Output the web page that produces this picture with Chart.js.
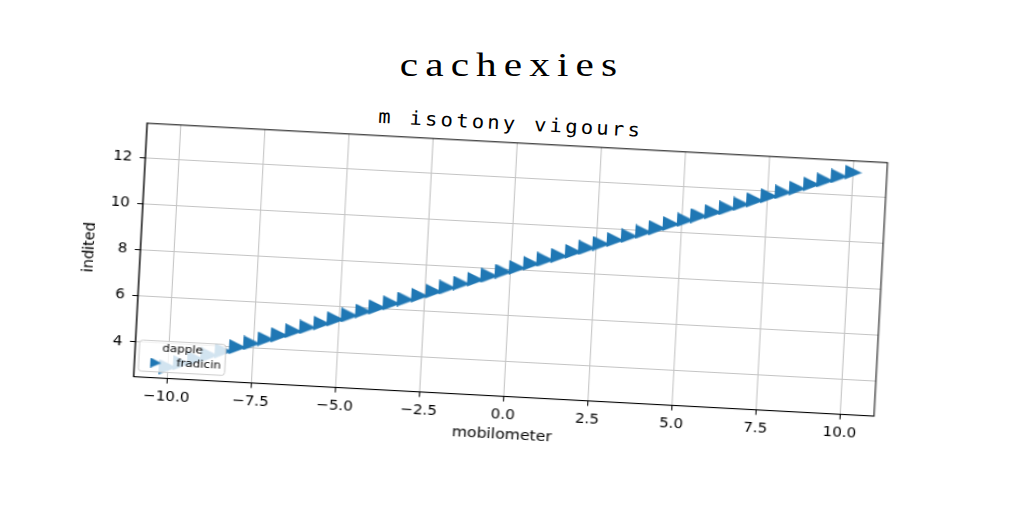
<!DOCTYPE html>
<html lang="en">
<head>
<meta charset="UTF-8" />
<title>cachexies</title>
<script src="https://cdn.jsdelivr.net/npm/chart.js@4.4.0/dist/chart.umd.min.js"></script>
<style>
  body { margin: 0; background: #fff; width: 1024px; height: 512px; overflow: hidden; position: relative; }
  #title { position: absolute; left: 0; top: 49px; width: 1024px; text-align: center; font: 33px/33px "Liberation Serif", serif; letter-spacing: 5.7px; color: #000; transform: scaleX(1.25); }
  #plot { position: absolute; left: 0; top: 0; width: 1024px; height: 512px; transform-origin: 510.5px 269.7px; transform: rotate(3.05deg) scaleX(1.08); }
  #subtitle { position: absolute; left: 0; width: 1007px; top: 114px; text-align: center; font: 19px/19px "DejaVu Sans Mono", monospace; letter-spacing: 3px; color: #000; }
  canvas { position: absolute; left: 0; top: 0; }
</style>
</head>
<body>
<div id="title">cachexies</div>
<div id="plot">
  <div id="subtitle">m isotony vigours</div>
  <canvas id="chart" width="1024" height="512"></canvas>
</div>
<script>
// values
const xValues = [-10, -9.59, -9.18, -8.78, -8.37, -7.96, -7.55, -7.14, -6.73, -6.33,
  -5.92, -5.51, -5.10, -4.69, -4.29, -3.88, -3.47, -3.06, -2.65, -2.24,
  -1.84, -1.43, -1.02, -0.61, -0.20, 0.20, 0.61, 1.02, 1.43, 1.84,
  2.24, 2.65, 3.06, 3.47, 3.88, 4.29, 4.69, 5.10, 5.51, 5.92,
  6.33, 6.73, 7.14, 7.55, 7.96, 8.37, 8.78, 9.18, 9.59, 10];
const yValues = [3.00, 3.20, 3.41, 3.61, 3.82, 4.02, 4.22, 4.43, 4.63, 4.84,
  5.04, 5.24, 5.45, 5.65, 5.86, 6.06, 6.27, 6.47, 6.67, 6.88,
  7.08, 7.29, 7.49, 7.69, 7.90, 8.10, 8.31, 8.51, 8.71, 8.92,
  9.12, 9.33, 9.53, 9.73, 9.94, 10.14, 10.35, 10.55, 10.76, 10.96,
  11.16, 11.37, 11.57, 11.78, 11.98, 12.18, 12.39, 12.59, 12.80, 13.00];
const xTicks = [-10, -7.5, -5, -2.5, 0, 2.5, 5, 7.5, 10];
const yTicks = [4, 6, 8, 10, 12];
const seriesLabel = 'fradicin';
const legendTitle = 'dapple';
const xTitle = 'mobilometer';
const yTitle = 'indited';

const blue = '#1f77b4';
const tickFont = { family: 'DejaVu Sans', size: 14 };
const titleFont = { family: 'DejaVu Sans', size: 14.5 };
const minus = v => String(v).replace('-', '\u2212');

// right-pointing triangle like matplotlib's '>' marker
function triangleRight(w, h, color) {
  const c = document.createElement('canvas');
  c.width = w; c.height = h;
  const g = c.getContext('2d');
  g.fillStyle = color;
  g.beginPath();
  g.moveTo(0, 0); g.lineTo(w, h / 2); g.lineTo(0, h);
  g.closePath();
  g.fill();
  return c;
}
const marker = triangleRight(16, 15, blue);
const legendMarker = triangleRight(10, 10, blue);

// box around the axes + legend in the lower left corner
const frameLegend = {
  id: 'frameLegend',
  afterDatasetsDraw(chart) {
    const { ctx, chartArea: a } = chart;
    const ds = chart.data.datasets[0];
    const w = 80, h = 31, x0 = a.left + 4, y0 = a.bottom - 6 - h;
    ctx.save();
    ctx.beginPath();
    ctx.roundRect(x0, y0, w, h, 3);
    ctx.fillStyle = 'rgba(255,255,255,0.8)';
    ctx.fill();
    ctx.strokeStyle = '#cccccc';
    ctx.lineWidth = 1;
    ctx.stroke();
    ctx.fillStyle = '#000';
    ctx.font = '11px "DejaVu Sans"';
    ctx.textBaseline = 'middle';
    ctx.textAlign = 'center';
    ctx.fillText(legendTitle, x0 + w / 2, y0 + 8);
    ctx.textAlign = 'left';
    ctx.fillText(ds.label, x0 + 35, y0 + 22);
    ctx.drawImage(legendMarker, x0 + 11, y0 + 17);
    ctx.restore();
  },
  afterDraw(chart) {
    const { ctx, chartArea: a } = chart;
    ctx.save();
    ctx.strokeStyle = '#000';
    ctx.lineWidth = 1;
    ctx.strokeRect(a.left, a.top, a.right - a.left, a.bottom - a.top);
    ctx.restore();
  }
};

new Chart(document.getElementById('chart'), {
  type: 'scatter',
  data: {
    datasets: [{
      label: seriesLabel,
      data: xValues.map((x, i) => ({ x, y: yValues[i] })),
      pointStyle: marker,
      pointRadius: 8,
      pointHoverRadius: 8,
      backgroundColor: blue,
      borderColor: blue,
      showLine: false
    }]
  },
  options: {
    responsive: false,
    animation: false,
    layout: { padding: { left: 111.2, right: 170.2, top: 142.8, bottom: 67.8 } },
    plugins: { legend: { display: false }, tooltip: { enabled: false } },
    scales: {
      x: {
        type: 'linear', min: -11, max: 11,
        afterBuildTicks: s => { s.ticks = xTicks.map(v => ({ value: v })); },
        afterFit: s => { s.height = 47.6; },
        grid: { color: '#c4c4c4', tickColor: '#000', tickLength: 5, lineWidth: 1 },
        border: { display: true, color: '#000' },
        ticks: { color: '#000', font: tickFont, padding: 5, maxRotation: 0, autoSkip: false, callback: v => minus(v.toFixed(1)) },
        title: { display: true, text: xTitle, color: '#000', font: titleFont, padding: 0 }
      },
      y: {
        type: 'linear', min: 2.5, max: 13.5,
        afterBuildTicks: s => { s.ticks = yTicks.map(v => ({ value: v })); },
        afterFit: s => { s.width = 56; },
        grid: { color: '#c4c4c4', tickColor: '#000', tickLength: 5, lineWidth: 1 },
        border: { display: true, color: '#000' },
        ticks: { color: '#000', font: tickFont, padding: 7, autoSkip: false, callback: v => minus(v) },
        title: { display: true, text: yTitle, color: '#000', font: titleFont, padding: 0 }
      }
    }
  },
  plugins: [frameLegend]
});
</script>
</body>
</html>
